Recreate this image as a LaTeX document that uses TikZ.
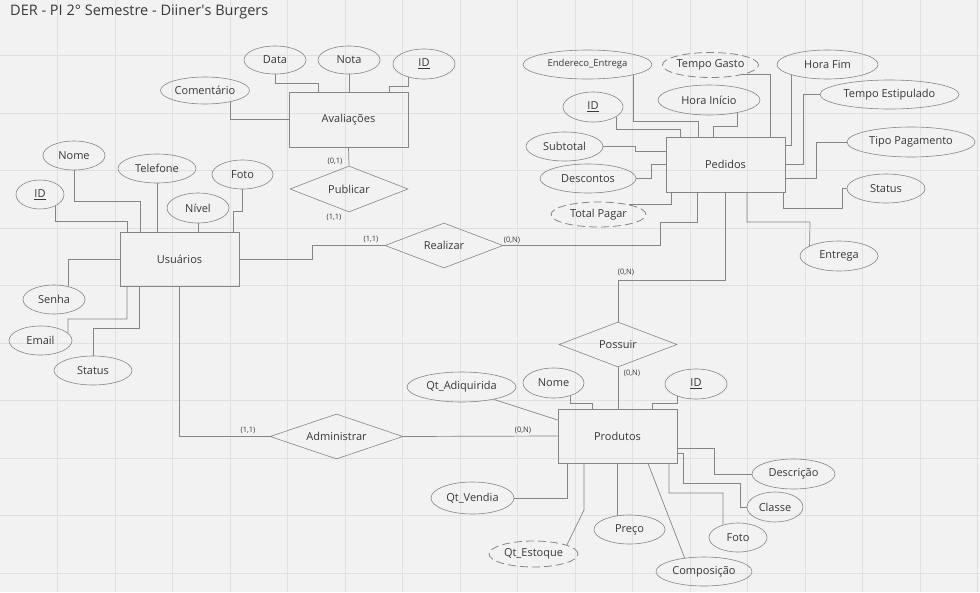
\documentclass[tikz,border=0pt]{standalone}
\usepackage{fontspec}
\setmainfont{Open Sans}
\usetikzlibrary{shapes.geometric}
\definecolor{bg}{HTML}{F2F2F2}
\definecolor{gridc}{HTML}{E0E0E0}
\definecolor{edge}{HTML}{858585}
\definecolor{ink}{HTML}{383838}
\begin{document}
\begin{tikzpicture}[x=1pt,y=-1pt,
  every node/.style={text=ink, font=\fontsize{11}{13}\selectfont},
  sz/.style 2 args={minimum width=#1, minimum height=#2},
  ent/.style={draw=edge, line width=0.7pt, rectangle, inner sep=0, sz={119}{55}},
  rel/.style={draw=edge, line width=0.6pt, diamond, aspect=2.6, inner sep=0},
  attr/.style={draw=edge, line width=0.6pt, ellipse, inner sep=0},
  derived/.style={attr, line width=0.8pt, dash pattern=on 8pt off 4pt},
  ln/.style={draw=edge, line width=0.7pt},
  card/.style={font=\fontsize{7.5}{9}\selectfont}
]
% canvas and grid
\fill[bg] (0,0) rectangle (980,592);
\useasboundingbox (0,0) rectangle (980,592);
\foreach \gx in {1,...,17} \draw[gridc, line width=0.8pt] (57.5*\gx,0) -- (57.5*\gx,592);
\foreach \gy in {0,...,9} \draw[gridc, line width=0.8pt] (0,55.5+57.5*\gy) -- (980,55.5+57.5*\gy);

% title
\node[anchor=base west, inner sep=0, font=\fontsize{14.5}{16}\selectfont] (title) at (10,15) {DER - PI 2° Semestre - Diiner\textquotesingle s Burgers};

% entities
\node[ent] (aval) at (348.5,119.5) {Avaliações};
\node[ent, sz={119}{54}] (usu) at (179.5,259) {Usuários};
\node[ent] (ped) at (725.5,164.5) {Pedidos};
\node[ent, sz={119}{54}] (prod) at (617.5,436) {Produtos};

% relationships
\node[rel, sz={118}{46}] (pub) at (349,189) {Publicar};
\node[rel, sz={118}{45}] (real) at (444,245.5) {Realizar};
\node[rel, sz={118}{45}] (pos) at (618,344.5) {Possuir};
\node[rel, sz={133}{45}] (adm) at (336.5,436.5) {Administrar};

% attributes of Avaliações
\node[attr, sz={62}{28}] (data) at (275,60) {Data};
\node[attr, sz={62}{28}] (nota) at (349,60) {Nota};
\node[attr, sz={62}{30}] (avid) at (424,64) {\underline{ID}};
\node[attr, sz={89}{27}] (coment) at (205,90.5) {Comentário};

% attributes of Usuários
\node[attr, sz={62}{29}] (nome) at (74,155.5) {Nome};
\node[attr, sz={78}{29}] (tel) at (157,168.5) {Telefone};
\node[attr, sz={61}{29}] (ufoto) at (242.5,174.5) {Foto};
\node[attr, sz={48}{29}] (uid) at (40,194.5) {\underline{ID}};
\node[attr, sz={62}{30}] (niv) at (198,208) {Nível};
\node[attr, sz={62}{29}] (senha) at (54,299.5) {Senha};
\node[attr, sz={63}{29}] (email) at (40.5,340.5) {Email};
\node[attr, sz={78}{29}] (ustat) at (93,370.5) {Status};

% attributes of Pedidos
\node[attr, sz={129}{29}, font=\fontsize{9.5}{11}\selectfont] (endr) at (587.5,64.5) {Endereco\_Entrega};
\node[derived, sz={91}{25}] (tg) at (710.5,65) {Tempo Gasto};
\node[attr, sz={101}{29}] (hf) at (827.5,64.5) {Hora Fim};
\node[attr, sz={102}{30}] (hi) at (709,100) {Hora Início};
\node[attr, sz={139}{29}] (te) at (889.5,94.5) {Tempo Estipulado};
\node[attr, sz={60}{30}] (pid) at (593,107) {\underline{ID}};
\node[attr, sz={77}{29}] (sub) at (564.5,146.5) {Subtotal};
\node[attr, sz={128}{30}] (tp) at (911,142) {Tipo Pagamento};
\node[attr, sz={96}{29}] (desc) at (588,178.5) {Descontos};
\node[attr, sz={78}{29}] (pst) at (886,188.5) {Status};
\node[derived, sz={95}{25}] (totp) at (598.5,214.5) {Total Pagar};
\node[attr, sz={78}{30}] (entg) at (839,256) {Entrega};

% attributes of Produtos
\node[attr, sz={109}{30}] (qa) at (461.5,387) {Qt\_Adiquirida};
\node[attr, sz={61}{30}] (pn) at (553.5,383) {Nome};
\node[attr, sz={62}{30}] (prid) at (696,384) {\underline{ID}};
\node[attr, sz={83}{32}] (qv) at (472.5,498) {Qt\_Vendia};
\node[derived, sz={89}{26}] (qe) at (533.5,554) {Qt\_Estoque};
\node[attr, sz={71}{29}] (pr) at (629.5,529.5) {Preço};
\node[attr, sz={96}{29}] (comp) at (704,571.5) {Composição};
\node[attr, sz={58}{29}] (pf) at (738,537.5) {Foto};
\node[attr, sz={56}{30}] (cl) at (775,507) {Classe};
\node[attr, sz={83}{30}] (dsc) at (793.5,474) {Descrição};

% connectors: Avaliações
\draw[ln] (data.south) |- (318,83) -- (318,0 |- aval.north);
\draw[ln] (nota.south) -- (nota.south |- aval.north);
\draw[ln] (avid.221) |- (389,86) -- (389,0 |- aval.north);
\draw[ln] (coment.336) |- (aval.west);
\draw[ln] (aval.south) -- (pub.north);

% connectors: Usuários
\draw[ln] (nome.south) |- (140,201) -- (140,0 |- usu.north);
\draw[ln] (tel.south) -- (tel.south |- usu.north);
\draw[ln] (uid.323) |- (127,221) -- (127,0 |- usu.north);
\draw[ln] (niv.south) -- (niv.south |- usu.north);
\draw[ln] (ufoto.south) |- (233,211) -- (233,0 |- usu.north);
\draw[ln] (usu.west) -| (senha.43);
\draw[ln] (127,0 |- usu.south) |- (68,319) -- (email.15);
\draw[ln] (139,0 |- usu.south) |- (93,328) -- (ustat.north);

% relationships
\draw[ln] (usu.east) -- (312,0 |- usu.east) |- (real.west);
\draw[ln] (real.east) -- (660,0 |- real.east) |- (697,222) -- (697,0 |- ped.south);
\draw[ln] (ped.south) |- (618,280) -- (pos.north);
\draw[ln] (pos.south) -- (pos.south |- prod.north);
\draw[ln] (usu.south) |- (adm.west);
\draw[ln] (adm.east) -- (prod.west);

% cardinalities
\node[card] (c1) at (335,161) {(0,1)};
\node[card] (c2) at (334,217) {(1,1)};
\node[card] (c3) at (371,239) {(1,1)};
\node[card] (c4) at (512,240) {(0,N)};
\node[card] (c5) at (626,272) {(0,N)};
\node[card] (c6) at (632,373) {(0,N)};
\node[card] (c7) at (248,430) {(1,1)};
\node[card] (c8) at (523,430) {(0,N)};

% connectors: Pedidos
\draw[ln] (endr.347) |- (698,121) -- (698,0 |- ped.north);
\draw[ln] (pid.337) |- (680,129) -- (680,0 |- ped.north);
\draw[ln] (hi.336) |- (713,126) -- (713,0 |- ped.north);
\draw[ln] (tg.343) -| (770,0 |- ped.north);
\draw[ln] (hf.196) |- (ped.east |- 0,145);
\draw[ln] (te.west) -- (803,0 |- te.west) |- (ped.east |- 0,164);
\draw[ln] (tp.west) -- (816,0 |- tp.west) |- (ped.east |- 0,178);
\draw[ln] (783,0 |- ped.south) |- (842,208) |- (pst.west);
\draw[ln] (747,0 |- ped.south) |- (810,222) -- (entg.161);
\draw[ln] (sub.east) -- (635,0 |- sub.east) |- (ped.west |- 0,151);
\draw[ln] (desc.east) -- (651,0 |- desc.east) |- (ped.west |- 0,164);
\draw[ln] (671,0 |- ped.south) |- (totp.18);

% connectors: Produtos
\draw[ln] (qa.339) -- (prod.west |- 0,420);
\draw[ln] (pn.323) |- (592,403) -- (592,0 |- prod.north);
\draw[ln] (prid.214) |- (652,403) -- (652,0 |- prod.north);
\draw[ln] (567,0 |- prod.south) |- (qv.east);
\draw[ln] (584,0 |- prod.south) -- (584,510) -- (qe.15);
\draw[ln] (prod.south) -- (prod.south |- pr.130);
\draw[ln] (648,0 |- prod.south) -- (comp.145);
\draw[ln] (669,0 |- prod.south) |- (723,493) -- (pf.140);
\draw[ln] (prod.east |- 0,453) -- (683,453) |- (740,483) |- (cl.west);
\draw[ln] (prod.east |- 0,448) -- (714,448) |- (dsc.west);
\end{tikzpicture}
\end{document}
